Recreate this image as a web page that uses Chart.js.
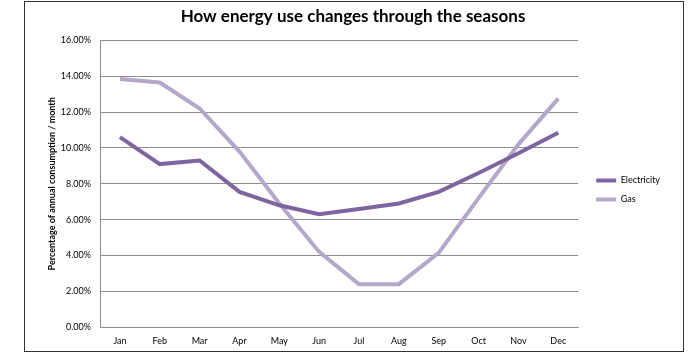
<!DOCTYPE html>
<html>
<head>
<meta charset="utf-8">
<script src="https://cdn.jsdelivr.net/npm/chart.js@4.4.0/dist/chart.umd.min.js"></script>
<style>
  html, body { margin: 0; padding: 0; background: #fff; overflow: hidden; }
  #frame {
    position: absolute; left: 24px; top: 1px;
    width: 660px; height: 351px;
    border: 1px solid #333; box-sizing: border-box; pointer-events: none;
  }
  canvas { position: absolute; left: 0; top: 0; }
</style>
</head>
<body>
<canvas id="energyChart" width="700" height="353"></canvas>
<div id="frame"></div>
<script>
const months = ['Jan', 'Feb', 'Mar', 'Apr', 'May', 'Jun', 'Jul', 'Aug', 'Sep', 'Oct', 'Nov', 'Dec'];
const electricity = [10.6, 9.1, 9.3, 7.55, 6.8, 6.3, 6.6, 6.9, 7.55, 8.6, 9.7, 10.85];
const gas = [13.85, 13.65, 12.2, 9.8, 6.9, 4.2, 2.4, 2.4, 4.15, 7.2, 10.2, 12.75];
const yTicks = [0, 2, 4, 6, 8, 10, 12, 14, 16];

const ctx = document.getElementById('energyChart').getContext('2d');

new Chart(ctx, {
    type: 'line',
    data: {
        labels: months,
        datasets: [{
            label: 'Electricity',
            data: electricity,
            borderColor: '#7f65a0',
            backgroundColor: '#7f65a0',
            borderWidth: 4,
            pointRadius: 0,
            tension: 0
        }, {
            label: 'Gas',
            data: gas,
            borderColor: '#b4a7c9',
            backgroundColor: '#b4a7c9',
            borderWidth: 4,
            pointRadius: 0,
            tension: 0
        }]
    },
    options: {
        responsive: false,
        animation: false,
        layout: { padding: { left: 36, right: 30, top: 4, bottom: -1 } },
        plugins: {
            title: {
                display: true,
                text: 'How energy use changes through the seasons',
                color: '#000',
                font: { family: 'Lato', size: 17, weight: 'bold' },
                padding: { top: 2, bottom: 14 }
            },
            legend: {
                position: 'right',
                // blank title only pushes the items down a bit
                title: { display: true, text: ' ', font: { size: 10 }, padding: { top: 0, bottom: 10 } },
                labels: {
                    usePointStyle: true,
                    pointStyle: 'line',
                    pointStyleWidth: 20,
                    padding: 10,
                    color: '#000',
                    font: { family: 'Lato', size: 9 }
                }
            },
            tooltip: { enabled: false }
        },
        scales: {
            x: {
                offset: true,
                grid: { display: false, drawTicks: false },
                border: { color: '#8c8c8c', width: 1 },
                ticks: { color: '#000', padding: 8, font: { family: 'Lato', size: 9 }, maxRotation: 0 }
            },
            y: {
                min: 0,
                max: 16,
                afterBuildTicks: axis => { axis.ticks = yTicks.map(v => ({ value: v })); },
                grid: { color: '#8c8c8c', lineWidth: 1, drawTicks: false },
                border: { color: '#8c8c8c', width: 1 },
                ticks: {
                    color: '#000',
                    padding: 9,
                    font: { family: 'Lato', size: 9 },
                    callback: v => v.toFixed(2) + '%'
                },
                title: {
                    display: true,
                    text: 'Percentage of annual consumption / month',
                    color: '#000',
                    font: { family: 'Lato', size: 9, weight: 'bold' },
                    padding: { top: 11, bottom: -6 }
                }
            },
            // empty right axis, just a gap between plot and legend
            gap: {
                position: 'right',
                grid: { display: false, drawTicks: false },
                border: { display: false },
                ticks: { display: false },
                afterFit: axis => { axis.width = 8; }
            }
        }
    }
});
</script>
</body>
</html>
